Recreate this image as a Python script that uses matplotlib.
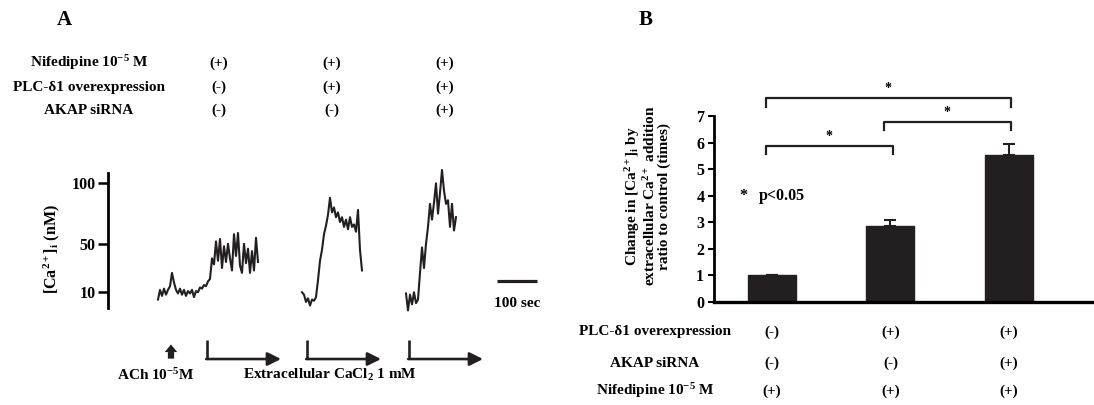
import matplotlib.pyplot as plt
import numpy as np

plt.rcParams['font.family'] = ['Liberation Serif', 'DejaVu Serif']
plt.rcParams['font.weight'] = 'bold'
plt.rcParams['mathtext.fontset'] = 'custom'
plt.rcParams['mathtext.rm'] = 'Liberation Serif:bold'
plt.rcParams['mathtext.it'] = 'Liberation Serif:italic:bold'
plt.rcParams['mathtext.bf'] = 'Liberation Serif:bold'

INK = '#231f20'
FS = 11

# ---- panel A: conditions and Ca2+ traces (nM, one sample every 5 s)
cond_a = ['Nifedipine 10$^{-5}$ M', 'PLC-δ1 overexpression', 'AKAP siRNA']
signs_a = [['(+)', '(+)', '(+)'],
           ['(-)', '(+)', '(+)'],
           ['(-)', '(-)', '(+)']]

trace_dt = 5
trace_t0 = [125, 485, 745]
trace1 = [4, 12, 7, 13, 8, 12, 15, 26, 18, 12, 9, 13, 8, 12, 7, 11, 9, 12, 6, 11,
          10, 14, 13, 16, 15, 19, 21, 38, 33, 52, 36, 54, 30, 48, 35, 50, 38, 28,
          58, 40, 59, 32, 26, 50, 34, 46, 26, 44, 28, 55, 35]
trace2 = [10, 8, 2, 5, -1, 4, 3, 6, 20, 36, 45, 58, 65, 74, 88, 76, 80, 72, 76,
          68, 72, 64, 70, 62, 72, 64, 66, 60, 78, 45, 28]
trace3 = [9, -5, 8, 0, 10, 1, 4, 26, 47, 30, 50, 64, 83, 70, 84, 100, 75, 92,
          111, 94, 83, 86, 64, 83, 61, 72]
traces = [trace1, trace2, trace3]
ach_time = 157.5
cacl2_times = [247.5, 497.5, 752.5]
arrow_len = 185
scale_sec = 100

# ---- panel B: ratio to control
groups = [0, 1, 2]
ratio = [1.0, 2.87, 5.52]
ratio_err = [0.03, 0.2, 0.41]
pairs = [(0, 1), (1, 2), (0, 2)]
bracket_y = [5.88, 6.78, 7.66]
cond_b = ['PLC-δ1 overexpression', 'AKAP siRNA', 'Nifedipine 10$^{-5}$ M']
signs_b = [['(-)', '(+)', '(+)'],
           ['(-)', '(-)', '(+)'],
           ['(+)', '(+)', '(+)']]

W, H = 1094, 405
fig = plt.figure(figsize=(W / 100, H / 100), dpi=100)


def fx(x):
    return x / W


def fy(y):
    return 1 - y / H


# ---------------- panel A
fig.text(fx(64), fy(20), 'A', fontsize=15, ha='center', va='center')
for r, lab in enumerate(cond_a):
    yy = fy([63, 87, 110][r])
    fig.text(fx(89), yy, lab, fontsize=FS, ha='center', va='center')
    for c, s in enumerate(signs_a[r]):
        fig.text(fx([219, 332, 445][c]), yy, s, fontsize=FS, ha='center', va='center')

axA = fig.add_axes([108 / W, 1 - 308 / H, 437 / W, 135 / H])
axA.set_xlim(0, 1092.5)
axA.set_ylim(-3, 108.5)
for s in ['top', 'right', 'bottom']:
    axA.spines[s].set_visible(False)
axA.spines['left'].set_linewidth(2.0)
axA.set_xticks([])
axA.set_yticks([10, 50, 100])
axA.tick_params(axis='y', direction='out', length=7, width=1.8, labelsize=11.5, pad=2)
for lab in axA.get_yticklabels():
    lab.set_fontweight('bold')

for t0, v in zip(trace_t0, traces):
    t = t0 + trace_dt * np.arange(len(v))
    axA.plot(t, v, color=INK, lw=1.5, clip_on=False)

axA.plot([972.5, 972.5 + scale_sec], [19, 19], color=INK, lw=2.3, solid_capstyle='butt')
axA.text(972.5 + scale_sec / 2, 1.0, '100 sec', fontsize=FS, ha='center', va='center')

fig.text(fx(52), fy(249), '[Ca$^{2+}$]$_\\mathrm{i}$ (nM)', fontsize=11.5,
         rotation=90, ha='center', va='center')

tr = axA.get_xaxis_transform()
axA.annotate('', xy=(ach_time, -0.27), xytext=(ach_time, -0.375), xycoords=tr,
             textcoords=tr, annotation_clip=False,
             arrowprops=dict(arrowstyle='simple,head_length=0.55,head_width=0.9,tail_width=0.45',
                             fc=INK, ec='none', shrinkA=0, shrinkB=0))
for t in cacl2_times:
    axA.plot([t, t], [-0.237, -0.378], transform=tr, color=INK, lw=1.9,
             clip_on=False, solid_capstyle='butt')
    axA.annotate('', xy=(t + arrow_len, -0.378), xytext=(t - 2, -0.378), xycoords=tr,
                 textcoords=tr, annotation_clip=False,
                 arrowprops=dict(arrowstyle='-|>,head_length=0.8,head_width=0.4',
                                 color=INK, lw=1.9, shrinkA=0, shrinkB=0))

fig.text(fx(156), fy(375), 'ACh 10$^{-5}$M', fontsize=FS, ha='center', va='center')
fig.text(fx(330), fy(375), 'Extracellular CaCl$_2$ 1 mM', fontsize=FS,
         ha='center', va='center')

# ---------------- panel B
fig.text(fx(646), fy(20), 'B', fontsize=15, ha='center', va='center')

axB = fig.add_axes([714 / W, 1 - 302 / H, 380 / W, 186 / H])
axB.bar(groups, ratio, width=0.405, color=INK, edgecolor=INK)
axB.errorbar(groups, ratio, yerr=[[0, 0, 0], ratio_err], fmt='none', ecolor=INK,
             elinewidth=1.5, capsize=4.5, capthick=1.5)
axB.set_xlim(-0.49, 2.72)
axB.set_ylim(0, 7)
axB.set_yticks(range(8))
axB.set_xticks([])
for s in ['top', 'right']:
    axB.spines[s].set_visible(False)
axB.spines['left'].set_linewidth(2.0)
axB.spines['bottom'].set_linewidth(2.4)
axB.tick_params(axis='y', direction='out', length=4, width=1.5, labelsize=11.5, pad=3)
for lab in axB.get_yticklabels():
    lab.set_fontweight('bold')

drop = 0.32
for (a, b), yb in zip(pairs, bracket_y):
    axB.plot([a - 0.05, a - 0.05, b + 0.02, b + 0.02], [yb - drop, yb, yb, yb - drop],
             color=INK, lw=1.6, clip_on=False)
    axB.text((a + b) / 2 - 0.02, yb + 0.12, '*', fontsize=10, ha='center', va='bottom')

axB.text(-0.24, 4.0, '*', fontsize=11.5, ha='center', va='center')
axB.text(-0.11, 4.0, 'p<0.05', fontsize=11.5, ha='left', va='center')

fig.text(fx(647), fy(196),
         'Change in [Ca$^{2+}$]$_\\mathrm{i}$ by\nextracellular Ca$^{2+}$ addition\nratio to control (times)',
         fontsize=11, rotation=90, ha='center', va='center', multialignment='center',
         linespacing=1.0)

trB = axB.get_xaxis_transform()
for r, lab in enumerate(cond_b):
    yy = [-0.161, -0.328, -0.478][r]
    axB.text(-0.99, yy, lab, transform=trB, fontsize=FS, ha='center', va='center',
             clip_on=False)
    for c, s in enumerate(signs_b[r]):
        axB.text(groups[c], yy, s, transform=trB, fontsize=FS, ha='center',
                 va='center', clip_on=False)

fig.savefig('out.png', dpi=100)
